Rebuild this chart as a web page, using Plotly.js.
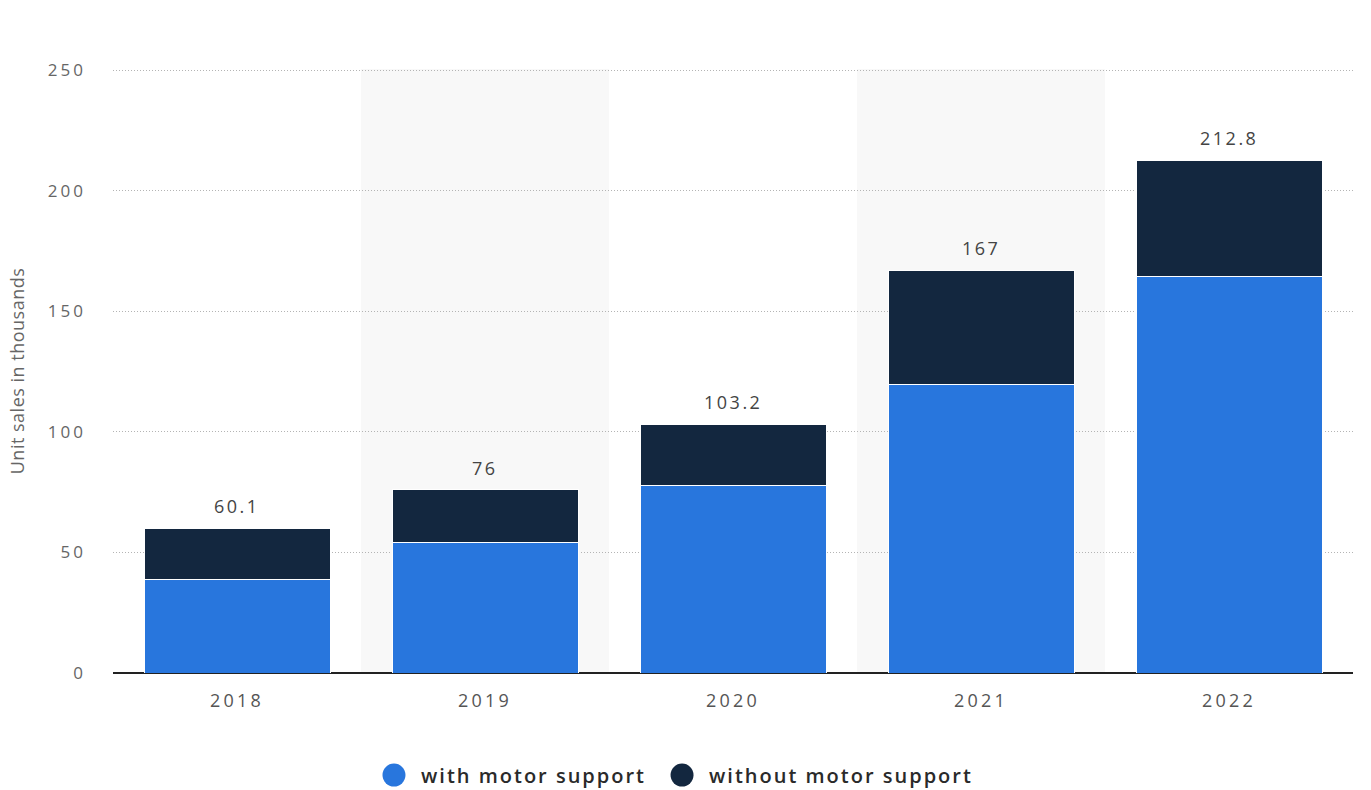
<!DOCTYPE html>
<html>
<head>
<meta charset="utf-8">
<script src="https://cdn.plot.ly/plotly-3.0.1.min.js"></script>
<style>
html,body{margin:0;padding:0;background:#fff;}
#chart{width:1371px;height:790px;}
.xtick text { letter-spacing: 3.2px; }
.ytick text { letter-spacing: 3px; }
.ytitle { letter-spacing: 0.5px; }
</style>
</head>
<body>
<div id="chart"></div>
<script>
const years = ['2018', '2019', '2020', '2021', '2022'];
const withMotor = [39.0, 54.0, 78.0, 119.5, 164.7];
const withoutMotor = [21.1, 22.0, 25.2, 47.5, 48.1];
const totals = [60.1, 76, 103.2, 167, 212.8];
const totalLabels = ['60.1', '76', '103.2', '167', '212.8'];
const seriesNames = ['with motor support', 'without motor support'];
const colors = ['#2876dd', '#13273f'];
const yTicks = [0, 50, 100, 150, 200, 250];

const font = 'Open Sans, Noto Sans, sans-serif';

const traces = [
  {type: 'bar', x: years, y: withMotor, name: seriesNames[0], showlegend: false,
   marker: {color: colors[0], line: {color: '#ffffff', width: 1}}, width: 0.75, hoverinfo: 'y'},
  {type: 'bar', x: years, y: withoutMotor, name: seriesNames[1], showlegend: false,
   marker: {color: colors[1], line: {color: '#ffffff', width: 1}}, width: 0.75, hoverinfo: 'y'}
];

const shapes = [1, 3].map(i => ({
  type: 'rect', xref: 'x', yref: 'paper', x0: i - 0.5, x1: i + 0.5, y0: 0, y1: 1,
  fillcolor: '#f8f8f8', line: {width: 0}, layer: 'below'
}));

// custom legend (circle swatches)
const legendX = [0.2266, 0.4589];
const legendTextX = [0.2468, 0.4790];
const legendY = -0.1689;
seriesNames.forEach((n, i) => {
  shapes.push({
    type: 'circle', xref: 'paper', yref: 'paper', xsizemode: 'pixel', ysizemode: 'pixel',
    xanchor: legendX[i], yanchor: legendY, x0: -11.5, x1: 11.5, y0: -11.5, y1: 11.5,
    fillcolor: colors[i], line: {width: 0}
  });
});

const annotations = years.map((yr, i) => ({
  x: i, y: totals[i], xref: 'x', yref: 'y',
  text: '<span style="letter-spacing:2.5px">' + totalLabels[i] + '</span>', showarrow: false,
  yanchor: 'bottom', yshift: 8, font: {family: font, size: 18, color: '#444'}
}));
seriesNames.forEach((n, i) => {
  annotations.push({
    x: legendTextX[i], y: legendY, xref: 'paper', yref: 'paper', xanchor: 'left', yanchor: 'middle',
    text: '<span style="letter-spacing:2px">' + n + '</span>', showarrow: false,
    font: {family: font, size: 20, color: '#2a2a2a', weight: 600}
  });
});

const layout = {
  width: 1371, height: 790,
  margin: {l: 113, r: 18, t: 69, b: 117, autoexpand: false},
  paper_bgcolor: '#ffffff', plot_bgcolor: '#ffffff',
  barmode: 'stack',
  shapes: shapes,
  annotations: annotations,
  showlegend: false,
  font: {family: font, color: '#555'},
  xaxis: {
    type: 'category', range: [-0.5, 4.5], showgrid: false,
    tickfont: {family: font, size: 18, color: '#555'},
    ticks: '', showline: false, zeroline: false, ticklabelstandoff: 15
  },
  yaxis: {
    range: [0, 250.6], tickvals: yTicks, ticktext: yTicks.map(String),
    showgrid: true, gridcolor: '#b4b4b4', griddash: '1px,2px', gridwidth: 1,
    zeroline: true, zerolinecolor: '#222', zerolinewidth: 2,
    tickfont: {family: font, size: 17, color: '#666'}, ticks: '', ticklabelstandoff: 26,
    title: {text: 'Unit sales in thousands', font: {family: font, size: 18, color: '#666'}, standoff: 18}
  }
};

Plotly.newPlot('chart', traces, layout, {displayModeBar: false, staticPlot: true});
</script>
</body>
</html>
